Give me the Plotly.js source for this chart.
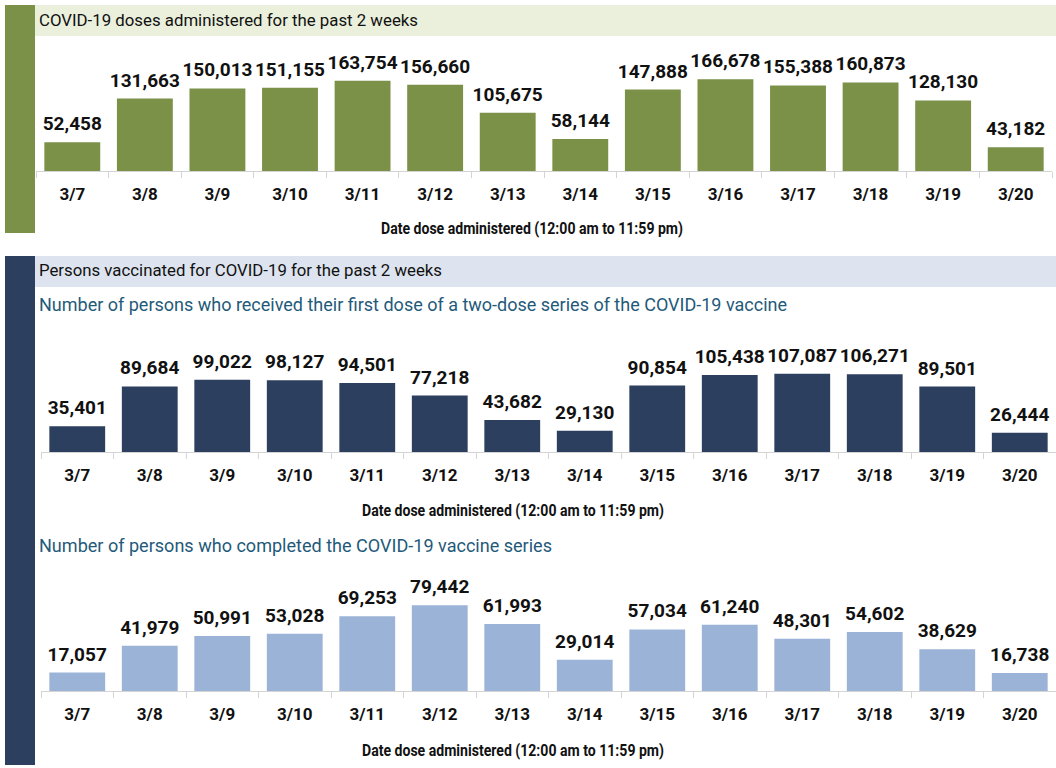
<!DOCTYPE html>
<html>
<head>
<meta charset="utf-8">
<script src="https://cdn.plot.ly/plotly-3.0.1.min.js"></script>
<style>html,body{margin:0;padding:0;background:#fff;}#chart{width:1056px;height:768px;}</style>
</head>
<body>
<div id="chart"></div>
<script>
const dates = ["3/7","3/8","3/9","3/10","3/11","3/12","3/13","3/14","3/15","3/16","3/17","3/18","3/19","3/20"];
const dosesAdministered = [52458,131663,150013,151155,163754,156660,105675,58144,147888,166678,155388,160873,128130,43182];
const firstDose = [35401,89684,99022,98127,94501,77218,43682,29130,90854,105438,107087,106271,89501,26444];
const completedSeries = [17057,41979,50991,53028,69253,79442,61993,29014,57034,61240,48301,54602,38629,16738];

const W = 1056, H = 768;
const px = p => p / W;
const py = p => 1 - p / H;

const GREEN = "#7b9148", NAVY = "#2c3f5e", LIGHTBLUE = "#9ab3d6", TEAL = "#1f5a7a";
const labelFont = {family: "Roboto, Arial, sans-serif", size: 19, color: "#111", weight: 700};
const tickFont = {family: "Roboto, Arial, sans-serif", size: 17, color: "#111", weight: 700};
const sans = "Roboto, Arial, sans-serif";

function barTrace(y, color, xa, ya) {
  return {
    type: "bar", x: dates, y: y, xaxis: xa, yaxis: ya,
    marker: {color: color},
    texttemplate: "%{y:,.0f}", textposition: "outside", constraintext: "none",
    textfont: labelFont, cliponaxis: false, hoverinfo: "skip"
  };
}

const data = [
  barTrace(dosesAdministered, GREEN, "x", "y"),
  barTrace(firstDose, NAVY, "x2", "y2"),
  barTrace(completedSeries, LIGHTBLUE, "x3", "y3")
];

function xAxis(d0, d1, anchor) {
  return {
    domain: [px(d0), px(d1)], anchor: anchor, type: "category",
    showline: true, linecolor: "#d4d4d4", linewidth: 1,
    ticks: "outside", tickson: "boundaries", ticklen: 6, tickcolor: "#d4d4d4",
    tickfont: tickFont, ticklabelstandoff: 8, showgrid: false, zeroline: false, fixedrange: true
  };
}
function yAxis(top, base, max, anchor) {
  return {domain: [py(base), py(top)], range: [0, max], visible: false, anchor: anchor, fixedrange: true};
}

const shapes = [
  {type: "rect", xref: "paper", yref: "paper", x0: px(5), x1: px(35), y0: py(233), y1: py(5), fillcolor: GREEN, line: {width: 0}},
  {type: "rect", xref: "paper", yref: "paper", x0: px(35), x1: px(1056), y0: py(36), y1: py(5), fillcolor: "#eaf0dc", line: {width: 0}},
  {type: "rect", xref: "paper", yref: "paper", x0: px(5), x1: px(35), y0: py(765), y1: py(256), fillcolor: NAVY, line: {width: 0}},
  {type: "rect", xref: "paper", yref: "paper", x0: px(35), x1: px(1056), y0: py(287), y1: py(256), fillcolor: "#dde4ef", line: {width: 0}}
];

function ann(text, x, y, font, anchor) {
  return {text: text, xref: "paper", yref: "paper", x: px(x), y: py(y), xanchor: anchor || "left", yanchor: "middle", showarrow: false, font: font};
}
const axisTitle = "Date dose administered (12:00 am to 11:59 pm)";
const axisTitleFont = {family: sans, size: 16, color: "#111", weight: 700};
const annotations = [
  ann("COVID-19 doses administered for the past 2 weeks", 39, 20, {family: sans, size: 17, color: "#111"}),
  ann(axisTitle, 532, 229, axisTitleFont, "center"),
  ann("Persons vaccinated for COVID-19 for the past 2 weeks", 39, 271, {family: sans, size: 16.5, color: "#111"}),
  ann("Number of persons who received their first dose of a two-dose series of the COVID-19 vaccine", 39, 305, {family: sans, size: 17.5, color: TEAL}),
  ann(axisTitle, 513, 510, axisTitleFont, "center"),
  ann("Number of persons who completed the COVID-19 vaccine series", 39, 545, {family: sans, size: 18, color: TEAL}),
  ann(axisTitle, 513, 750, axisTitleFont, "center")
];
// fit text to the reference widths: annotation index -> [left px, width px]
const fitText = {0: [39, 379], 1: [381, 302], 2: [39, 403], 3: [39, 748], 4: [362, 302], 5: [39, 513], 6: [362, 302]};

const layout = {
  width: W, height: H, margin: {l: 0, r: 0, t: 0, b: 0},
  paper_bgcolor: "#fff", plot_bgcolor: "rgba(0,0,0,0)",
  showlegend: false, bargap: 0.23,
  xaxis: xAxis(36, 1052, "y"),
  yaxis: yAxis(40, 171, 238000, "x"),
  xaxis2: xAxis(41, 1056, "y2"),
  yaxis2: yAxis(320, 452, 180600, "x2"),
  xaxis3: xAxis(41, 1056, "y3"),
  yaxis3: yAxis(560, 691, 121300, "x3"),
  shapes: shapes, annotations: annotations
};

Plotly.newPlot("chart", data, layout, {displayModeBar: false, staticPlot: true}).then(function () {
  document.querySelectorAll("g.annotation").forEach(function (g) {
    const idx = parseInt(g.getAttribute("data-index"), 10);
    if (!(idx in fitText)) return;
    const t = g.querySelector("text.annotation-text");
    if (!t) return;
    const [left, width] = fitText[idx];
    t.setAttribute("textLength", width);
    t.setAttribute("lengthAdjust", "spacingAndGlyphs");
    const r = t.getBoundingClientRect();
    const x0 = parseFloat(t.getAttribute("x") || "0");
    t.setAttribute("x", x0 + (left - r.left));
  });
  // lift the value labels a little further above the bars
  document.querySelectorAll("g.trace.bars g.point text").forEach(function (t) {
    const tr = t.getAttribute("transform") || "";
    t.setAttribute("transform", tr + " translate(0,-4)");
  });
});
</script>
</body>
</html>
